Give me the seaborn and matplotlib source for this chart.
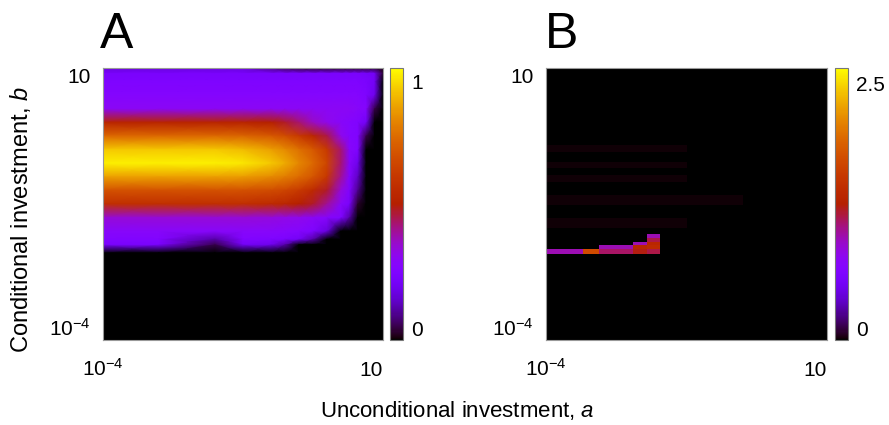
import numpy as np
import matplotlib
matplotlib.use("Agg")
import matplotlib.pyplot as plt
import seaborn as sns

sns.set_theme(style="white")
plt.rcParams['font.family'] = ['Liberation Sans', 'DejaVu Sans']
plt.rcParams['mathtext.fontset'] = 'custom'
plt.rcParams['mathtext.rm'] = 'Liberation Sans'
plt.rcParams['mathtext.it'] = 'Liberation Sans:italic'
for k in ('text.color', 'axes.labelcolor', 'xtick.color', 'ytick.color'):
    plt.rcParams[k] = 'black'

# ---------------- data ----------------
# Panel A: node grid (log10 a across, log10 b down)
log_a_A = [-4, -3, -2, -1.5, -1, -0.75, -0.5, -0.25, 0, 0.25, 0.4, 0.55, 0.7, 0.85, 1]
log_b_A = [1.0, 0.9, 0.75, 0.5, 0.25, 0.0, -0.25, -0.5, -0.75, -1.0, -1.25,
           -1.5, -1.75, -2.0, -2.15, -2.25, -2.4, -3.0, -4.0]
row_b1_0 = [0.18, 0.18, 0.18, 0.18, 0.10, 0.06, 0.04, 0.03, 0.03, 0.03, 0.03, 0.03, 0.03, 0.03, 0.02]
row_b0_9 = [0.24, 0.24, 0.24, 0.24, 0.24, 0.24, 0.24, 0.24, 0.24, 0.24, 0.24, 0.24, 0.23, 0.22, 0.03]
row_b0_75 = [0.26, 0.26, 0.26, 0.26, 0.26, 0.26, 0.26, 0.26, 0.26, 0.26, 0.26, 0.26, 0.25, 0.22, 0.00]
row_b0_5 = [0.28, 0.28, 0.28, 0.28, 0.28, 0.28, 0.28, 0.28, 0.28, 0.28, 0.28, 0.28, 0.26, 0.20, 0.00]
row_b0_25 = [0.31, 0.31, 0.31, 0.31, 0.31, 0.31, 0.31, 0.31, 0.31, 0.31, 0.31, 0.30, 0.28, 0.05, 0.00]
row_b0_0 = [0.55, 0.55, 0.55, 0.55, 0.53, 0.50, 0.45, 0.38, 0.33, 0.30, 0.28, 0.27, 0.22, 0.00, 0.00]
row_bm0_25 = [0.78, 0.78, 0.78, 0.77, 0.74, 0.70, 0.64, 0.56, 0.48, 0.33, 0.28, 0.27, 0.05, 0.00, 0.00]
row_bm0_5 = [0.97, 0.97, 0.97, 0.95, 0.90, 0.86, 0.80, 0.74, 0.64, 0.45, 0.30, 0.26, 0.00, 0.00, 0.00]
row_bm0_75 = [1.03, 1.03, 1.03, 1.02, 0.97, 0.92, 0.85, 0.78, 0.68, 0.45, 0.30, 0.20, 0.00, 0.00, 0.00]
row_bm1_0 = [0.90, 0.90, 0.90, 0.89, 0.86, 0.83, 0.79, 0.73, 0.63, 0.42, 0.28, 0.15, 0.00, 0.00, 0.00]
row_bm1_25 = [0.72, 0.72, 0.72, 0.72, 0.70, 0.68, 0.64, 0.58, 0.50, 0.35, 0.27, 0.10, 0.00, 0.00, 0.00]
row_bm1_5 = [0.60, 0.60, 0.60, 0.60, 0.58, 0.56, 0.53, 0.50, 0.42, 0.30, 0.24, 0.03, 0.00, 0.00, 0.00]
row_bm1_75 = [0.36, 0.36, 0.36, 0.36, 0.35, 0.34, 0.33, 0.31, 0.29, 0.26, 0.12, 0.00, 0.00, 0.00, 0.00]
row_bm2_0 = [0.30, 0.30, 0.30, 0.30, 0.30, 0.29, 0.28, 0.26, 0.18, 0.00, 0.00, 0.00, 0.00, 0.00, 0.00]
row_bm2_15 = [0.27, 0.27, 0.12, 0.27, 0.26, 0.25, 0.22, 0.12, 0.00, 0.00, 0.00, 0.00, 0.00, 0.00, 0.00]
row_bm2_25 = [0.24, 0.24, 0.05, 0.22, 0.20, 0.12, 0.00, 0.00, 0.00, 0.00, 0.00, 0.00, 0.00, 0.00, 0.00]
row_bm2_4 = [0.0] * 15
row_bm3_0 = [0.0] * 15
row_bm4_0 = [0.0] * 15
values_A = [row_b1_0, row_b0_9, row_b0_75, row_b0_5, row_b0_25, row_b0_0,
            row_bm0_25, row_bm0_5, row_bm0_75, row_bm1_0, row_bm1_25,
            row_bm1_5, row_bm1_75, row_bm2_0, row_bm2_15, row_bm2_25,
            row_bm2_4, row_bm3_0, row_bm4_0]

# Panel B: cell grid (edges in log10), rows listed bottom -> top
edges_a_B = [-4.0, -3.35, -3.05, -2.45, -2.2, -1.97, -1.5, -0.5, 1.0]
edges_b_B = [-4.0, -2.41, -2.32, -2.26, -2.19, -2.12, -2.05, -1.94, -1.76,
             -1.52, -1.33, -1.1, -0.97, -0.84, -0.73, -0.54, -0.415, 1.0]
values_B = [
    [0.00, 0.00, 0.00, 0.00, 0.00, 0.00, 0.00, 0.00],
    [1.00, 1.75, 1.15, 1.30, 1.20, 0.00, 0.00, 0.00],
    [0.006, 0.006, 1.00, 1.40, 1.45, 0.006, 0.004, 0.00],
    [0.006, 0.006, 0.006, 1.00, 1.40, 0.006, 0.004, 0.00],
    [0.006, 0.006, 0.006, 0.006, 1.20, 0.006, 0.004, 0.00],
    [0.006, 0.006, 0.006, 0.006, 1.00, 0.008, 0.004, 0.00],
    [0.006, 0.006, 0.006, 0.006, 0.006, 0.006, 0.005, 0.003],
    [0.015, 0.015, 0.015, 0.015, 0.015, 0.014, 0.010, 0.004],
    [0.006, 0.006, 0.006, 0.006, 0.006, 0.006, 0.006, 0.004],
    [0.016, 0.016, 0.016, 0.016, 0.016, 0.015, 0.011, 0.004],
    [0.006, 0.006, 0.006, 0.006, 0.006, 0.006, 0.006, 0.004],
    [0.015, 0.015, 0.015, 0.015, 0.015, 0.014, 0.010, 0.004],
    [0.006, 0.006, 0.006, 0.006, 0.006, 0.006, 0.006, 0.004],
    [0.015, 0.015, 0.015, 0.015, 0.015, 0.014, 0.010, 0.004],
    [0.006, 0.006, 0.006, 0.006, 0.006, 0.006, 0.006, 0.004],
    [0.013, 0.013, 0.013, 0.013, 0.013, 0.012, 0.009, 0.004],
    [0.005, 0.005, 0.005, 0.005, 0.005, 0.005, 0.005, 0.004],
]

x_ticks = [-4, 1]
x_ticklabels = ['$\\mathregular{10^{-4}}$', '10']
y_ticks = [-4, 1]
y_ticklabels = ['$\\mathregular{10^{-4}}$', '10']
vmax_A, vmax_B = 1.054, 2.646
cbar_ticks_A, cbar_labels_A = [0, 1], ['0', '1']
cbar_ticks_B, cbar_labels_B = [0, 2.5], ['0', '2.5']
panel_letters = ['A', 'B']
xlabel = 'Unconditional investment, $\\mathit{a}$'
ylabel = 'Conditional investment, $\\mathit{b}$'

# ---------------- figure ----------------
W, H = 889, 425
fig = plt.figure(figsize=(W / 100, H / 100), dpi=100)
fig.patch.set_facecolor('white')


def box(x0, y0, x1, y1):
    return [x0 / W, (H - y1) / H, (x1 - x0) / W, (y1 - y0) / H]


axA = fig.add_axes(box(103, 68, 383, 340))
caxA = fig.add_axes(box(390, 68, 403, 340))
axB = fig.add_axes(box(546, 68, 827, 340))
caxB = fig.add_axes(box(835, 68, 848, 340))

cmap = plt.get_cmap('gnuplot')
XA, YA = np.meshgrid(log_a_A, log_b_A)
mA = axA.pcolormesh(XA, YA, np.array(values_A), shading='gouraud',
                    cmap=cmap, vmin=0, vmax=vmax_A, rasterized=True)
mB = axB.pcolormesh(edges_a_B, edges_b_B, np.array(values_B), shading='flat',
                    cmap=cmap, vmin=0, vmax=vmax_B, rasterized=True)

for ax in (axA, axB):
    ax.set_xlim(-4, 1)
    ax.set_ylim(-4, 1)
    ax.set_xticks(x_ticks)
    ax.set_xticklabels(x_ticklabels, fontsize=15)
    ax.set_yticks(y_ticks)
    ax.set_yticklabels(y_ticklabels, fontsize=15)
    ax.tick_params(axis='x', length=0, pad=26)
    ax.tick_params(axis='y', length=0, pad=9)
    xl = ax.get_xticklabels()
    for lab in xl:
        lab.set_va('baseline')
    xl[0].set_ha('center')
    xl[1].set_ha('right')
    yl = ax.get_yticklabels()
    yl[0].set_va('bottom')
    yl[1].set_va('top')
    for s in ax.spines.values():
        s.set_color('#999999')
        s.set_linewidth(0.8)

for cax, m, vmax, ticks, labels, nint in ((caxA, mA, vmax_A, cbar_ticks_A, cbar_labels_A, 6),
                                          (caxB, mB, vmax_B, cbar_ticks_B, cbar_labels_B, 7)):
    cb = fig.colorbar(m, cax=cax)
    cb.set_ticks(ticks)
    cb.set_ticklabels(labels)
    cb.outline.set_edgecolor('#777777')
    cb.outline.set_linewidth(0.8)
    cax.tick_params(which='major', length=0, pad=6, labelsize=15)
    cax.set_yticks(np.linspace(0, vmax, nint + 1)[1:-1], minor=True)
    cax.tick_params(which='minor', direction='in', length=3, width=0.8,
                    color='#444444', left=True, right=True)
    ticklabs = cax.get_yticklabels()
    ticklabs[0].set_va('bottom')

fig.text(100 / W, (H - 48) / H, panel_letters[0], fontsize=36, ha='left', va='baseline')
fig.text(545 / W, (H - 48) / H, panel_letters[1], fontsize=36, ha='left', va='baseline')
fig.text(457 / W, (H - 410) / H, xlabel, fontsize=16, ha='center', va='center')
fig.text(21 / W, (H - 220) / H, ylabel, fontsize=17, ha='center', va='center', rotation=90)

fig.savefig('out.png', dpi=100, facecolor='white')
